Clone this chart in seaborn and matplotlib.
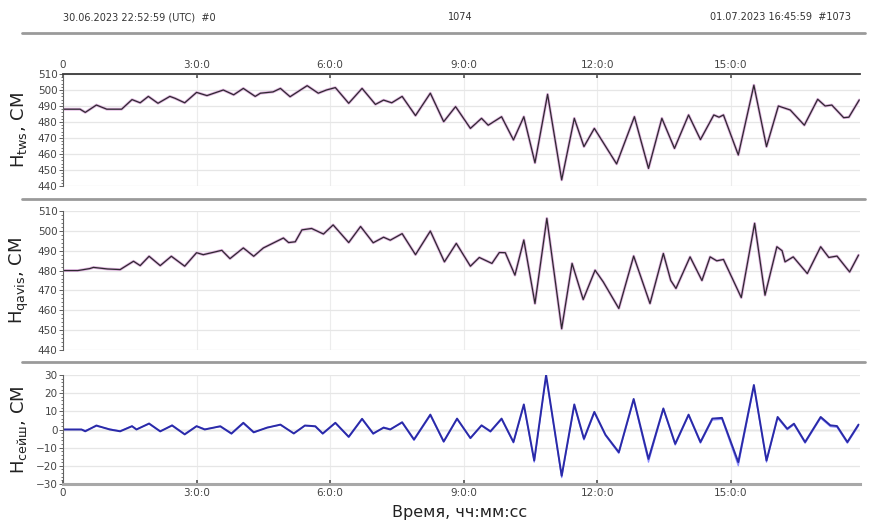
import matplotlib
matplotlib.use("Agg")
import matplotlib.pyplot as plt
from matplotlib.lines import Line2D
import seaborn as sns
import pandas as pd

# ---------------- data (minutes since 30.06.2023 22:52:59 UTC) ----------------
tws_t = [0, 23, 30, 45, 59, 79, 93, 104, 115, 128, 144, 151, 164, 180, 194, 216, 230, 243, 259, 266,
         283, 293, 306, 329, 344, 355, 367, 385, 403, 421, 432, 443, 457, 475, 495, 513, 529, 549,
         564, 573, 591, 607, 621, 636, 653, 672, 689, 702, 716, 746, 770, 789, 807, 824, 843, 859,
         877, 884, 890, 910, 931, 948, 964, 980, 999, 1017, 1027, 1036, 1052, 1059, 1073]
tws_v = [488, 488, 486, 490.6, 488, 488, 494, 492, 496, 491.7, 496, 494.8, 492, 498.5, 496.5, 500, 497, 501, 496, 498,
         498.8, 501, 495.8, 502.7, 498, 500, 501.5, 491.7, 501, 491, 493.7, 492, 496, 484, 498, 480.2, 489.6, 476,
         482.3, 478, 483.3, 468.8, 483.3, 454.5, 497.3, 443.8, 482.3, 464.6, 476, 453.8, 483.3, 451, 482.3, 463.5, 484.4, 469,
         484.4, 483, 484.4, 459.4, 503, 464.6, 490, 487.5, 478, 494.2, 490, 490.6, 482.7, 483, 493.8]

qav_t = [0, 20, 36, 41, 60, 77, 95, 104, 116, 131, 146, 164, 180, 189, 214, 225, 243, 257, 270, 297,
         304, 313, 322, 335, 351, 364, 385, 401, 418, 432, 441, 457, 475, 495, 514, 530, 549, 561,
         578, 588, 596, 609, 621, 636, 652, 672, 686, 701, 717, 728, 749, 769, 791, 809, 819, 826,
         845, 861, 872, 881, 890, 914, 932, 946, 962, 969, 973, 984, 1003, 1021, 1032, 1043, 1060, 1072]
qav_v = [480, 480, 481, 481.6, 480.8, 480.5, 484.7, 482.5, 487.2, 482.5, 487.2, 482.2, 489, 488, 490.2, 486, 491.4, 487.2, 491.4, 496.4,
         494.1, 494.5, 500.5, 501.2, 498.4, 503, 494.1, 502.2, 494, 496.8, 495.3, 498.6, 488, 499.9, 484.4, 493.7, 482.2, 486.6,
         483.6, 489.1, 489, 477.7, 495.4, 463.4, 506.3, 450.7, 483.6, 465.4, 480.2, 474.3, 460.9, 487.3, 463.4, 488.6, 475, 471,
         486.9, 475, 486.9, 484.9, 485.6, 466.4, 503.8, 467.6, 492, 490, 484.4, 486.9, 478.5, 492, 486.6, 487.3, 479.3, 487.8]

sei_t = [0, 25, 30, 45, 63, 77, 93, 99, 116, 131, 147, 164, 180, 191, 212, 227, 243, 257, 275, 293,
         311, 326, 340, 350, 367, 385, 403, 418, 432, 441, 457, 473, 495, 513, 531, 549, 564, 576,
         591, 607, 621, 635, 651, 672, 689, 702, 716, 731, 749, 769, 789, 809, 825, 843, 859, 875,
         888, 910, 931, 948, 963, 976, 985, 1000, 1021, 1034, 1043, 1057, 1072]
sei_tws = [0, 0, -1, 2.2, 0, -1, 1.8, 0, 3.3, -1, 2.2, -2.7, 1.8, 0, 1.8, -2.2, 3.7, -1.5, 1, 2.7,
           -2.2, 2.2, 1.8, -2.2, 3.7, -4, 5.9, -2.2, 1, 0, 4, -5.5, 8.2, -6.6, 6, -4.7, 2.3, -1,
           6, -6.9, 13.8, -17.1, 30, -25.5, 13.8, -5.1, 9.7, -2.9, -12.5, 16.8, -16.2, 11.6, -7.9, 8.2, -6.9, 6,
           6.4, -18, 24.5, -17.1, 6.9, 0.4, 3.2, -6.9, 6.9, 2.3, 1.9, -6.9, 2.7]
sei_qav = [0, 0, -0.5, 1.8, 0.3, -0.8, 2.0, 0.2, 3.0, -1.2, 2.5, -2.4, 2.0, 0.3, 1.5, -2.5, 3.2, -1.8, 1.2, 2.4,
           -2.0, 2.0, 1.5, -2.5, 3.4, -4.4, 5.5, -2.6, 1.3, 0.3, 3.6, -6.0, 7.6, -7.0, 5.6, -5.0, 2.0, -1.4,
           5.5, -7.4, 13.0, -18.0, 29, -26.5, 13.0, -5.8, 9.0, -3.4, -13.2, 16.0, -18.0, 11.0, -8.6, 7.6, -7.6, 5.2,
           5.6, -20, 23.5, -18.0, 6.2, -0.2, 2.6, -7.6, 6.2, 1.6, 1.2, -7.6, 2.0]

xtick_pos = [0, 180, 360, 540, 720, 900]
xtick_labels = ["0", "3:0:0", "6:0:0", "9:0:0", "12:0:0", "15:0:0"]
header_left = "30.06.2023 22:52:59 (UTC)  #0"
header_mid = "1074"
header_right = "01.07.2023 16:45:59  #1073"
ylabels = ["H$_{\\mathrm{tws}}$, СМ", "H$_{\\mathrm{qavis}}$, СМ", "H$_{\\mathrm{сейш}}$, СМ"]
xlabel = "Время, чч:мм:сс"

# ---------------- figure ----------------
sns.set_theme(style="white")
plt.rcParams['font.family'] = ['DejaVu Sans']
W, H = 870, 525
fig = plt.figure(figsize=(W / 100, H / 100), dpi=100)

def box(l, t, r, b):
    return [l / W, 1 - b / H, (r - l) / W, (b - t) / H]

ax1 = fig.add_axes(box(63, 74, 860, 186))
ax2 = fig.add_axes(box(63, 211, 860, 350))
ax3 = fig.add_axes(box(63, 375, 860, 484))

df1 = pd.DataFrame({"t": tws_t, "v": tws_v})
df2 = pd.DataFrame({"t": qav_t, "v": qav_v})
df3 = pd.DataFrame({"t": sei_t, "a": sei_tws, "b": sei_qav})

pink = "#dcb0dc"
dark = "#2e2830"
for ax, df in ((ax1, df1), (ax2, df2)):
    sns.lineplot(data=df, x="t", y="v", ax=ax, color=pink, lw=2.0, estimator=None, sort=False)
    sns.lineplot(data=df, x="t", y="v", ax=ax, color=dark, lw=0.9, estimator=None, sort=False)
    ax.set_ylim(440, 510)
    ax.set_yticks(range(440, 511, 10))
    ax.set_yticks(range(440, 511, 2), minor=True)

sns.lineplot(data=df3, x="t", y="b", ax=ax3, color="#8f8fff", lw=0.9, estimator=None, sort=False)
sns.lineplot(data=df3, x="t", y="a", ax=ax3, color="#2a2aa8", lw=1.4, estimator=None, sort=False)
ax3.set_ylim(-30, 30)
ax3.set_yticks(range(-30, 31, 10))
ax3.set_yticks(range(-30, 31, 2), minor=True)

for ax in (ax1, ax2, ax3):
    ax.set_xlim(0, 1074)
    ax.set_xticks(xtick_pos)
    ax.set_xlabel("")
    ax.set_ylabel("")
    ax.grid(True, which="major", axis="y", color="#e6e6e6", lw=0.9)
    ax.grid(True, which="major", axis="x", color="#ececec", lw=0.8)
    ax.set_axisbelow(True)
    for s in ax.spines.values():
        s.set_visible(False)
    ax.spines["left"].set_visible(True)
    ax.spines["left"].set_color("#606060")
    ax.spines["left"].set_linewidth(0.8)
    ax.tick_params(axis="y", which="major", left=True, length=3, width=0.7, color="#606060",
                   labelsize=7.5, labelcolor="#444444", pad=1)
    ax.tick_params(axis="y", which="minor", left=True, length=1.5, width=0.6, color="#606060")
    ax.tick_params(axis="x", which="both", bottom=False, top=False, labelbottom=False, labeltop=False)

ax3.grid(True, which="major", axis="y", color="#e6e6e6", lw=0.9)
ax3.axhline(0, color="#c8c8c8", lw=1.0, zorder=0)

ax1.spines["top"].set_visible(True)
ax1.spines["top"].set_color("#3a3a3a")
ax1.spines["top"].set_linewidth(1.3)
ax1.tick_params(axis="x", top=True, labeltop=True, direction="in", length=3, color="#555555",
                labelsize=7.5, labelcolor="#444444", pad=3)
ax1.set_xticklabels(xtick_labels)

ax3.spines["bottom"].set_visible(True)
ax3.spines["bottom"].set_color("#a8a8a8")
ax3.spines["bottom"].set_linewidth(2.2)
ax3.tick_params(axis="x", bottom=True, labelbottom=True, direction="in", length=3, color="#555555",
                labelsize=7.5, labelcolor="#444444", pad=3)
ax3.set_xticklabels(xtick_labels)

# separators and header
for y in (33, 199, 362):
    fig.add_artist(Line2D([22 / W, 865 / W], [1 - y / H] * 2, color="#9a9a9a", lw=2.0))

fig.text(63 / W, 1 - 17 / H, header_left, fontsize=7, color="#333333", va="center", ha="left")
fig.text(448 / W, 1 - 17 / H, header_mid, fontsize=7, color="#333333", va="center", ha="left")
fig.text(851 / W, 1 - 17 / H, header_right, fontsize=7, color="#333333", va="center", ha="right")

ycent = [130, 280, 430]
for lab, yc in zip(ylabels, ycent):
    fig.text(19 / W, 1 - yc / H, lab, rotation=90, fontsize=13, color="#222222", va="center", ha="center")

fig.text(460 / W, 1 - 513 / H, xlabel, fontsize=11.5, color="#222222", va="center", ha="center")

fig.savefig("out.png", dpi=100, facecolor="white")
